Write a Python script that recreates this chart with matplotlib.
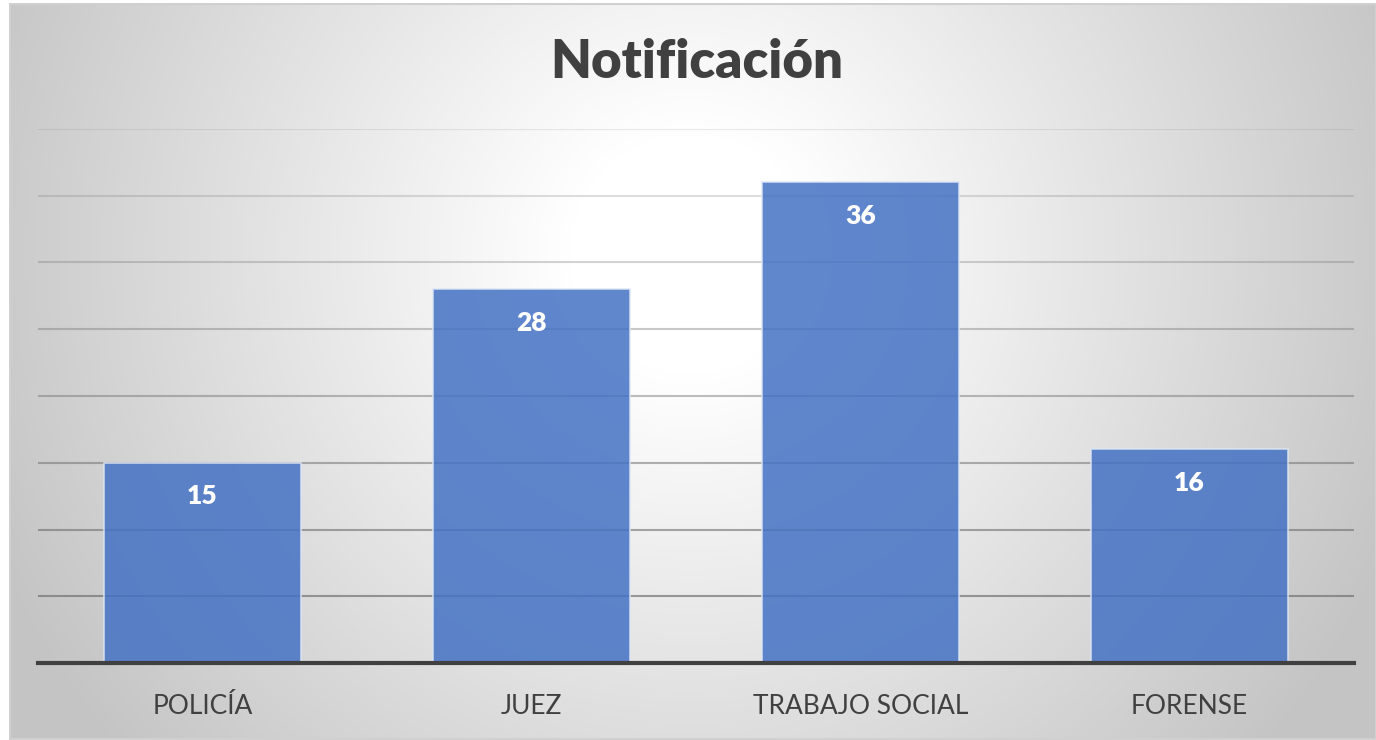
import matplotlib.pyplot as plt
import numpy as np

categories = ["POLICÍA", "JUEZ", "TRABAJO SOCIAL", "FORENSE"]
values = [15, 28, 36, 16]
grid_levels = [5, 10, 15, 20, 25, 30, 35, 40]

plt.rcParams["font.family"] = ["Lato", "DejaVu Sans"]

fig = plt.figure(figsize=(13.76, 7.40), dpi=100)
fig.patch.set_facecolor("white")

# radial gradient background (chart area)
bg = fig.add_axes([9 / 1376, 0, 1 - 9 / 1376, 1 - 3 / 740])
h, w = 737, 1367
yy, xx = np.mgrid[0:h, 0:w]
d = np.sqrt((xx - 681) ** 2 + (yy - 250) ** 2)
v = 1 - 0.23 * np.clip((d - 120) / 640, 0, 1)
img = np.dstack([v, v, v])
bg.imshow(img, aspect="auto", interpolation="bilinear")
bg.set_axis_off()
bg.add_patch(plt.Rectangle((0, 0), w - 1, h - 1, fill=False, ec="#d0d0d0", lw=1.5))

ax = fig.add_axes([38 / 1376, 1 - 663 / 740, 1316 / 1376, 534 / 740])
ax.set_facecolor("none")
x = np.arange(len(categories))

# gridlines, fading towards the top
for g in grid_levels:
    a = 0.15 + 0.6 * (1 - g / 40)
    ax.axhline(g, color="#6e6e6e", lw=1.5, alpha=a, zorder=1)

bars = ax.bar(x, values, width=0.6, color="#4472C4", alpha=0.85,
              edgecolor="#dce6f5", linewidth=1.2, zorder=2)

for xi, val in zip(x, values):
    ax.text(xi, val - 2.5, str(val), ha="center", va="center",
            color="white", fontsize=19, fontweight="heavy", zorder=3)

ax.set_xlim(-0.5, len(categories) - 0.5)
ax.set_ylim(0, 40)
ax.set_yticks([])
ax.set_xticks(x)
ax.set_xticklabels(categories, fontsize=19, color="#404040")
ax.tick_params(axis="x", length=0, pad=22)
for s in ["top", "right", "left"]:
    ax.spines[s].set_visible(False)
ax.spines["bottom"].set_color("#404040")
ax.spines["bottom"].set_linewidth(3)
ax.spines["bottom"].set_zorder(4)

fig.text(697 / 1376, 1 - 63 / 740, "Notificación", ha="center", va="center",
         fontsize=38, fontweight="heavy", color="#404040")

plt.savefig("out.png", dpi=100)
